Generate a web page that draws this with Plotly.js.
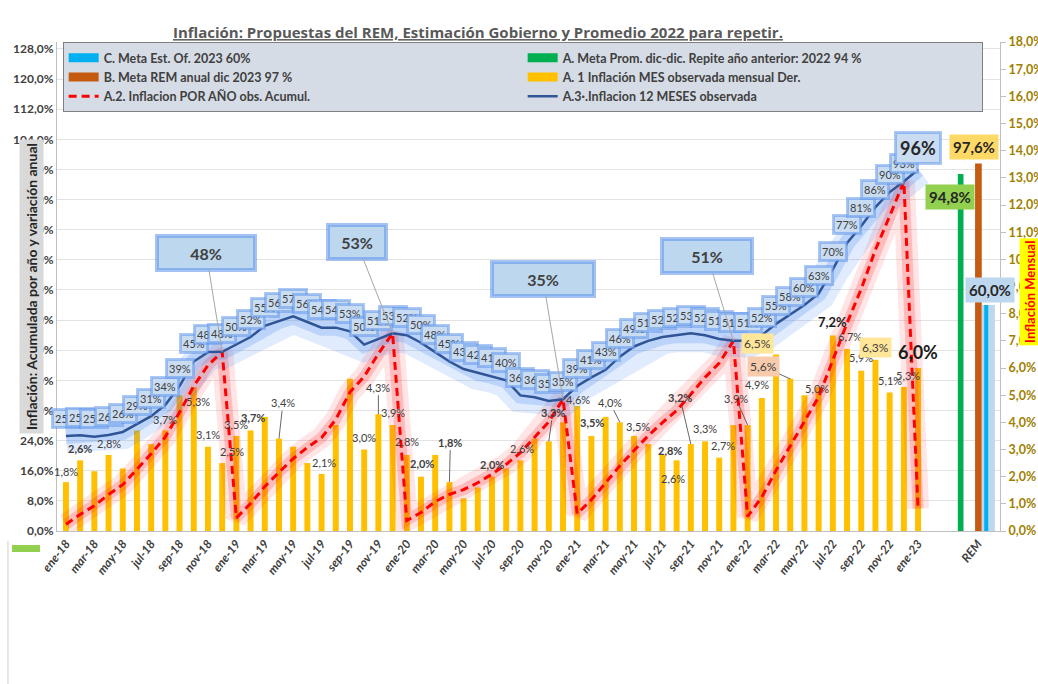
<!DOCTYPE html>
<html><head><meta charset="utf-8">
<script src="https://cdn.plot.ly/plotly-3.0.1.min.js"></script>
<style>html,body{margin:0;padding:0;background:#fff}#chart{width:1038px;height:684px}</style>
</head><body><div id="chart"></div>
<script>
// ---------------- DATA ----------------
const months = ["ene-18","feb-18","mar-18","abr-18","may-18","jun-18","jul-18","ago-18","sep-18","oct-18","nov-18","dic-18",
"ene-19","feb-19","mar-19","abr-19","may-19","jun-19","jul-19","ago-19","sep-19","oct-19","nov-19","dic-19",
"ene-20","feb-20","mar-20","abr-20","may-20","jun-20","jul-20","ago-20","sep-20","oct-20","nov-20","dic-20",
"ene-21","feb-21","mar-21","abr-21","may-21","jun-21","jul-21","ago-21","sep-21","oct-21","nov-21","dic-21",
"ene-22","feb-22","mar-22","abr-22","may-22","jun-22","jul-22","ago-22","sep-22","oct-22","nov-22","dic-22",
"ene-23"];

// A.1 monthly inflation (right axis, %)
const monthly = [1.8,2.6,2.2,2.8,2.3,3.7,3.2,3.7,5.0,5.3,3.1,2.5,
3.5,3.7,4.2,3.4,3.1,2.5,2.1,3.9,5.6,3.0,4.3,3.9,
2.8,2.0,2.8,1.8,1.2,1.6,2.0,2.3,2.6,3.4,3.3,4.0,
4.6,3.5,4.2,4.0,3.5,3.2,2.8,2.6,3.2,3.3,2.7,3.9,
3.9,4.9,6.5,5.6,5.0,5.3,7.2,6.7,5.9,6.3,5.1,5.3,
6.0];

// A.2 accumulated inflation per year (left axis, %)
const accumulated = [1.8,4.4,6.7,9.7,12.3,16.4,20.5,25.0,31.5,38.5,44.0,47.6,
3.5,7.3,11.8,15.6,19.2,22.2,24.8,29.6,36.9,41.0,47.1,52.5,
2.8,4.9,7.8,9.7,11.0,12.8,15.1,17.7,20.8,24.9,29.0,35.0,
4.6,8.3,12.8,17.3,21.4,25.3,28.8,32.0,36.3,40.8,44.6,50.5,
3.9,9.0,16.1,22.6,28.8,35.6,45.4,55.2,64.3,74.7,83.6,92.8,
6.0];

// A.3 12-month inflation (left axis, %)
const twelveMonth = [25.2,25.4,25.0,25.5,26.3,28.5,30.5,33.5,38.5,45.0,47.5,47.6,
49.5,51.5,54.5,55.8,57.0,55.5,54.0,54.0,53.0,49.5,51.0,52.5,
52.0,50.0,47.5,45.0,43.0,42.0,41.2,40.0,36.0,35.5,34.5,35.0,
38.5,40.8,42.8,46.3,49.0,50.5,51.5,52.0,52.5,52.0,51.0,50.5,
50.5,52.0,55.0,57.5,60.0,63.0,69.5,76.5,81.0,86.0,90.0,92.8,
96.0];

// REM / targets 2023
const remCategory = "REM";
const remGoalPrevYear = [94.8];   // A. green
const remAnnual = [97.6];         // B. brown
const officialGoal = [60.0];      // C. light blue

const tickLabels = ["ene-18","mar-18","may-18","jul-18","sep-18","nov-18","ene-19","mar-19","may-19","jul-19","sep-19","nov-19",
"ene-20","mar-20","may-20","jul-20","sep-20","nov-20","ene-21","mar-21","may-21","jul-21","sep-21","nov-21",
"ene-22","mar-22","may-22","jul-22","sep-22","nov-22","ene-23"];

const leftTicks = [0,8,16,24,32,40,48,56,64,72,80,88,96,104,112,120,128];
const rightTicks = [0,1,2,3,4,5,6,7,8,9,10,11,12,13,14,15,16,17,18];

// ---------------- BUILD ----------------
const xIdx = months.map((m,i)=>i);
const remTickX = 64.2;
const fmt = v => v.toFixed(1).replace('.',',') + '%';
const FONT = 'Lato, "Open Sans", sans-serif';

const traces = [];
// monthly bars (primary y, right side)
traces.push({type:'bar', x:xIdx, y:monthly, yaxis:'y', width:0.42,
  marker:{color:'#ffc000'}, showlegend:false, hoverinfo:'skip'});
// red glow
traces.push({type:'scatter', mode:'lines', x:xIdx, y:accumulated, yaxis:'y2',
  line:{color:'rgba(255,40,40,0.12)', width:22}, showlegend:false, hoverinfo:'skip'});
traces.push({type:'scatter', mode:'lines', x:xIdx, y:accumulated, yaxis:'y2',
  line:{color:'rgba(255,40,40,0.22)', width:11}, showlegend:false, hoverinfo:'skip'});
// blue glow
traces.push({type:'scatter', mode:'lines', x:xIdx, y:twelveMonth, yaxis:'y2',
  line:{color:'rgba(60,130,240,0.16)', width:34}, showlegend:false, hoverinfo:'skip'});
traces.push({type:'scatter', mode:'lines', x:xIdx, y:twelveMonth, yaxis:'y2',
  line:{color:'rgba(60,130,240,0.22)', width:16}, showlegend:false, hoverinfo:'skip'});
// red dashed accumulated
traces.push({type:'scatter', mode:'lines', x:xIdx, y:accumulated, yaxis:'y2',
  name:'A.2. Inflacion POR AÑO obs. Acumul.', legendrank:5,
  line:{color:'#ff0000', width:3, dash:'8px,5px'}});
// blue 12 month
traces.push({type:'scatter', mode:'lines', x:xIdx, y:twelveMonth, yaxis:'y2',
  name:'A.3·.Inflacion 12 MESES observada', legendrank:6,
  line:{color:'#2f5597', width:2.5}});
// REM bars
traces.push({type:'bar', x:[63.0], y:remGoalPrevYear, yaxis:'y2', width:0.4,
  marker:{color:'#00b050'}, showlegend:false, hoverinfo:'skip'});
traces.push({type:'bar', x:[64.25], y:remAnnual, yaxis:'y2', width:0.47,
  marker:{color:'#c55a11'}, showlegend:false, hoverinfo:'skip'});
traces.push({type:'bar', x:[64.95], y:officialGoal, yaxis:'y2', width:0.92,
  marker:{color:'#bdd7ee'}, showlegend:false, hoverinfo:'skip'});
traces.push({type:'bar', x:[64.8], y:officialGoal, yaxis:'y2', width:0.28,
  marker:{color:'#00b0f0'}, showlegend:false, hoverinfo:'skip'});
// legend stand-ins for bar series (wide rectangles like the original)
const legendBars = [
  ['C. Meta Est. Of. 2023 60%', '#00b0f0', 1],
  ['A. Meta Prom. dic-dic. Repite año anterior: 2022 94 %', '#00b050', 2],
  ['B. Meta REM anual dic 2023 97 %', '#c55a11', 3],
  ['A. 1 Inflación MES observada mensual Der.', '#ffc000', 4]
];
legendBars.forEach(([n,c,r])=>traces.push({type:'scatter', mode:'lines', x:[null], y:[null], yaxis:'y2',
  name:n, legendrank:r, line:{color:c, width:9}}));

// ---------------- ANNOTATIONS ----------------
const ann = [];
// axis titles
ann.push({xref:'paper', yref:'paper', x:-0.0403, y:0.50, text:'<b>Inflación: Acumulada por año y variación anual</b>',
  textangle:-90, showarrow:false, bgcolor:'#d9d9d9', borderpad:3,
  font:{family:FONT, size:14, color:'#262626'}});
ann.push({xref:'paper', yref:'paper', x:1.044, y:0.49, text:'<b>Inflación Mensual</b>',
  textangle:-90, showarrow:false, bgcolor:'#ffff00', borderpad:2,
  font:{family:FONT, size:13, color:'#ff0000'}});

// 12-month labels along the blue line
twelveMonth.forEach((v,i)=>{
  const last = i === twelveMonth.length-1;
  ann.push({x:i, y:v, xref:'x', yref:'y2', yshift: last?21:18, showarrow:false,
    text: last ? '<b>'+Math.round(v)+'%</b>' : Math.round(v)+'%',
    bgcolor:'#c9dcf2', bordercolor:'rgba(90,145,235,0.5)', borderwidth:3, borderpad: last?3:1,
    font:{family:FONT, size: last?18:11, color: last?'#262626':'#404040'}});
});

// big callouts at each December
const callouts = [[11,-16,-99,92],[23,-36,-91,52],[35,-20,-120,96],[47,-26,-85,84]];
callouts.forEach(([i,ax,ay,w])=>{
  ann.push({x:i, y:accumulated[i], xref:'x', yref:'y2', ax:ax, ay:ay, showarrow:true,
    arrowhead:0, arrowwidth:1, arrowcolor:'#a6a6a6', standoff:0,
    text:'<b>'+Math.round(accumulated[i])+'%</b>', width:w, height:28,
    bgcolor:'#bdd7ee', bordercolor:'rgba(90,145,235,0.55)', borderwidth:4,
    font:{family:FONT, size:16, color:'#404040'}});
});

// monthly bar labels: [index, dx, dy, bold, arrow, bg, size]
const barLab = [
 [0,0,-11],[1,0,-12,1],[3,0,-11],[7,0,-11],[9,4,14],[10,0,-12],[11,10,-12],[12,0,-11],[13,2,-13,1],
 [15,4,-36,0,1],[18,2,-11],[21,0,-12],[22,0,-27,0,1],[23,0,-13],[24,0,-13],[25,1,-13,1],[27,1,-40,1,1],
 [30,0,-12,1],[32,2,-12],[34,4,-29,1,1],[36,1,-7],[37,1,-13,1],[39,-10,-20,0,1],[40,4,-9],
 [42,8,-4,1],[43,-4,18],[44,-11,-47,1,1],[45,0,-13],[46,4,-12],[48,-12,-27,0,1],
 [50,-19,-11,0,0,'#ffe699'],[51,-27,-12,0,1,'#f8cbad'],[49,-5,-13],[52,13,-7],
 [54,0,-13,1,0,null,13],[55,3,-12],[56,0,-13],[57,0,-12,0,0,'#ffe699'],[58,0,-12],[59,4,-12],
 [60,0,-16,1,0,null,18]
];
barLab.forEach(([i,dx,dy,b,arr,bg,sz])=>{
  const t = fmt(monthly[i]);
  const a = {x:i, y:monthly[i], xref:'x', yref:'y',
    text: b ? '<b>'+t+'</b>' : t,
    font:{family:FONT, size: sz||11, color: (sz? '#1a1a1a':'#404040')}};
  if(bg){a.bgcolor = bg; a.borderpad = 2; a.font.size = 12;}
  if(arr){ Object.assign(a,{showarrow:true, ax:dx, ay:dy, arrowhead:0, arrowwidth:0.8, arrowcolor:'#404040', standoff:0}); }
  else { Object.assign(a,{showarrow:false, xshift:dx, yshift:-dy}); }
  ann.push(a);
});

// REM labels
ann.push({x:64.25, y:remAnnual[0], xref:'x', yref:'y2', xshift:-4, yshift:16, showarrow:false,
  text:'<b>'+fmt(remAnnual[0])+'</b>', bgcolor:'#ffd966', borderpad:3, font:{family:FONT, size:15, color:'#262626'}});
ann.push({x:63.0, y:remGoalPrevYear[0], xref:'x', yref:'y2', xshift:-11, yshift:-23, showarrow:false,
  text:'<b>'+fmt(remGoalPrevYear[0])+'</b>', bgcolor:'#92d050', borderpad:3, font:{family:FONT, size:15, color:'#262626'}});
ann.push({x:64.85, y:officialGoal[0], xref:'x', yref:'y2', xshift:3, yshift:15, showarrow:false,
  text:'<b>'+fmt(officialGoal[0])+'</b>', bgcolor:'#bdd7ee', borderpad:3, font:{family:FONT, size:15, color:'#262626'}});

// ---------------- LAYOUT ----------------
const tickVals = tickLabels.map(l=>months.indexOf(l)).concat([remTickX]);
const tickText = tickLabels.concat([remCategory]);

const layout = {
  width:1038, height:684,
  margin:{l:57, r:38, t:42, b:153, autoexpand:false},
  paper_bgcolor:'#ffffff', plot_bgcolor:'#ffffff',
  font:{family:FONT, color:'#404040'},
  title:{text:'<b><u>Inflación: Propuestas del REM, Estimación Gobierno y Promedio 2022 para repetir.</u></b>',
    x:0.4605, xanchor:'center', y:0.952, yanchor:'middle',
    font:{family:'"Open Sans", sans-serif', size:15, color:'#595959'}},
  barmode:'overlay',
  showlegend:true,
  legend:{orientation:'h', x:0.006, y:1, xanchor:'left', yanchor:'top',
    bgcolor:'#d6dce5', bordercolor:'#7f7f7f', borderwidth:1,
    entrywidth:414, traceorder:'normal',
    font:{family:FONT, size:12.5, color:'#404040', weight:'bold'}},
  xaxis:{range:[-0.63,65.77], tickmode:'array', tickvals:tickVals, ticktext:tickText,
    tickangle:-52, tickfont:{family:FONT, size:12, color:'#404040', weight:'bold', style:'italic'},
    showgrid:false, zeroline:false, showline:true, linecolor:'#bfbfbf', ticks:''},
  yaxis:{side:'right', range:[0,18], tickmode:'array', tickvals:rightTicks,
    ticktext:rightTicks.map(v=>v.toFixed(1).replace('.',',')+'%'),
    tickfont:{family:FONT, size:12.5, color:'#a08000', weight:'bold'},
    showgrid:false, zeroline:false, showline:true, linecolor:'#bfbfbf',
    ticks:'outside', ticklen:5, tickcolor:'#bfbfbf'},
  yaxis2:{overlaying:'y', side:'left', range:[0,129.85], tickmode:'array', tickvals:leftTicks,
    ticktext:leftTicks.map(v=>v.toFixed(1).replace('.',',')+'%'),
    tickfont:{family:FONT, size:12, color:'#404040', weight:'bold'},
    showgrid:true, gridcolor:'#e3e3e3', zeroline:false, showline:true, linecolor:'#bfbfbf', ticks:''},
  shapes:[
    {type:'rect', xref:'paper', yref:'paper', x0:-0.0477, x1:-0.018, y0:-0.043, y1:-0.0286,
     fillcolor:'#92d050', line:{width:0}},
    {type:'line', xref:'paper', yref:'paper', x0:-0.052, x1:-0.052, y0:-0.02, y1:-0.32,
     line:{color:'#d0d0d0', width:1}}
  ],
  annotations:ann
};

Plotly.newPlot('chart', traces, layout, {displayModeBar:false, staticPlot:true});
</script>
</body></html>
